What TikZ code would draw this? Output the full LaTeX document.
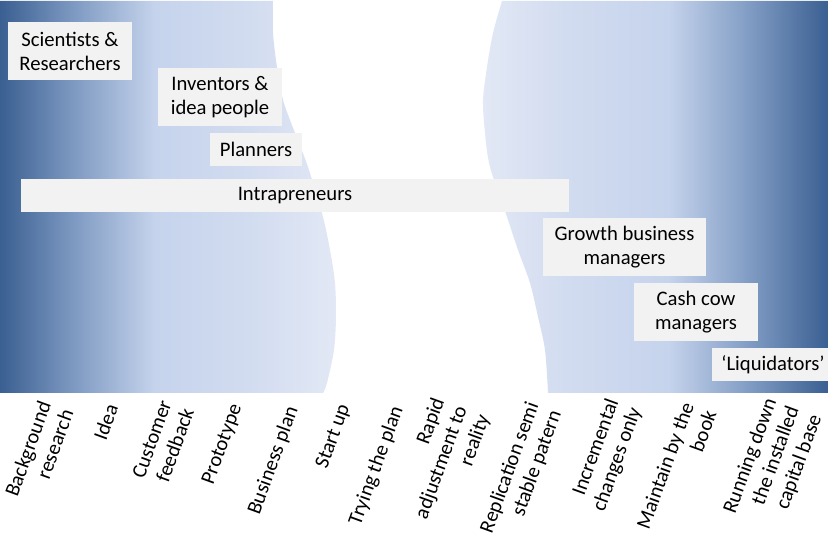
\documentclass[tikz,border=0pt]{standalone}
\usepackage{fontspec}
\setmainfont{Carlito}
\definecolor{deepblue}{HTML}{3A5F91}
\definecolor{midblue}{HTML}{7E9AC2}
\definecolor{paleblue}{HTML}{C5D3EC}
\definecolor{softblue}{HTML}{D2DCF0}
\definecolor{edgeblue}{HTML}{E2E8F5}
\definecolor{boxgray}{HTML}{F2F2F2}
% fades, fitted between 25bp and 75bp
\pgfdeclarehorizontalshading{leftfade}{100bp}{color(0bp)=(deepblue); color(25bp)=(deepblue);
  color(36bp)=(midblue); color(48bp)=(paleblue); color(62bp)=(softblue);
  color(75bp)=(edgeblue); color(100bp)=(edgeblue)}
\pgfdeclarehorizontalshading{rightfade}{100bp}{color(0bp)=(edgeblue); color(25bp)=(edgeblue);
  color(37bp)=(softblue); color(52bp)=(paleblue); color(64bp)=(midblue);
  color(75bp)=(deepblue); color(100bp)=(deepblue)}
\begin{document}
\begin{tikzpicture}[x=0.75pt,y=-0.75pt,
  role/.style={fill=boxgray, align=center, inner sep=0pt,
    font=\fontsize{15.5}{18}\selectfont},
  stage/.style={rotate=70, anchor=east, align=right, inner sep=0pt,
    font=\fontsize{15.5}{18}\selectfont}]
\useasboundingbox (0,0) rectangle (828,555);
\clip (0,0) rectangle (828,555);

% the two fading bands
\shade[shading=leftfade] (0,1) -- plot[smooth] coordinates {(273,1) (273,33) (277,67) (283,100)
  (295,133) (308,167) (323,217) (330,250) (335,283) (336,317) (334,350) (327,383) (323,393)}
  -- (0,393) -- cycle;
\shade[shading=rightfade] (828,1) -- plot[smooth] coordinates {(502,1) (493,33) (487,67) (483,100)
  (485,133) (490,167) (507,217) (518,250) (530,283) (538,317) (545,350) (548,393)}
  -- (828,393) -- cycle;

% roles
\node[role, minimum width=93pt, minimum height=43.5pt] (scientists) at (70,51) {Scientists \&\\Researchers};
\node[role, minimum width=93pt, minimum height=43.5pt] (inventors) at (220,97) {Inventors \&\\idea people};
\node[role, minimum width=69pt, minimum height=24.75pt] (planners) at (256,149.5) {Planners};
\node[role, minimum width=411pt, minimum height=24.75pt] (intra) at (295,195.5) {Intrapreneurs};
\node[role, minimum width=122.25pt, minimum height=43.5pt] (growth) at (624.5,247) {Growth business\\managers};
\node[role, minimum width=93pt, minimum height=43.5pt] (cashcow) at (696,312) {Cash cow\\managers};
\node[role, minimum width=91.5pt, minimum height=24.75pt] (liquid) at (773,364.5) {‘Liquidators’};

% stages
\node[stage] (background) at (56,406) {Background\\research};
\node[stage] (idea) at (112,405) {Idea};
\node[stage] (feedback) at (177,405) {Customer\\feedback};
\node[stage] (prototype) at (237,405) {Prototype};
\node[stage] (bplan) at (293,407) {Business plan};
\node[stage] (startup) at (345,405) {Start up};
\node[stage] (trying) at (398,407) {Trying the plan};
\node[stage] (rapid) at (462,407) {Rapid\\adjustment to\\reality};
\node[stage] (replication) at (545,407) {Replication semi\\stable patern};
\node[stage] (incremental) at (625,404) {Incremental\\changes only};
\node[stage] (maintain) at (699,407) {Maintain by the\\book};
\node[stage] (running) at (794,407) {Running down\\the installed\\capital base};
\end{tikzpicture}
\end{document}
